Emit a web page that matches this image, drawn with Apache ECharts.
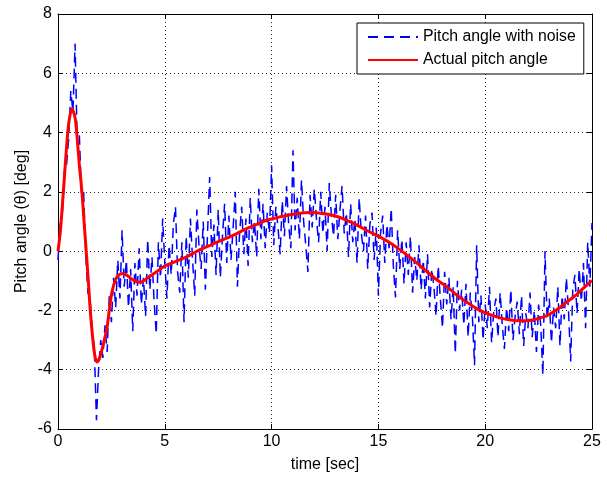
<!DOCTYPE html>
<html>
<head>
<meta charset="utf-8">
<script src="https://cdn.jsdelivr.net/npm/echarts@6/dist/echarts.min.js"></script>
<style>html,body{margin:0;padding:0;background:#fff;}#c{width:607px;height:478px;}</style>
</head>
<body>
<div id="c"></div>
<script>
// Noisy measurement, sampled every 0.1 s from t = 0 to 25
const noiseStep = 0.1;
const noiseValues = [
 -0.3, 0.9, 1.2, 2.7, 2.9, 3.8, 5.4, 4.7, 7.0, 3.6,
  3.9, 1.9, 2.0, -0.1, -1.4, -1.6, -2.6, -3.3, -5.7, -4.0,
 -3.0, -3.6, -2.5, -3.4, -1.5, -2.4, -0.9, -1.9, -0.3, -1.6,
  0.7, -1.2, -0.3, -1.9, -0.6, -2.7, -0.4, -1.5, 0.1, -1.8,
 -0.9, -2.2, 0.4, -1.3, -0.2, -1.7, -2.8, 0.3, -0.9, 1.1,
 -0.4, -1.6, 0.2, -0.8, 0.9, 1.5, -0.7, -1.4, 0.3, -2.4,
  0.5, -0.9, 1.1, -0.3, -1.5, 1.4, 0.2, -0.6, 1.0, -1.3,
  0.6, 2.5, -0.2, 0.9, -0.8, 1.4, -0.9, 0.5, 1.6, -0.4,
  1.2, -0.3, 0.8, 2.0, -1.2, 0.6, 1.5, -0.1, 1.1, -0.5,
  1.8, 0.3, 1.0, -0.2, 2.1, 0.4, 1.6, 0.1, 1.3, 0.6,
  2.9, 0.2, 1.5, 0.8, -0.1, 1.7, 0.5, 2.2, 0.9, 0.1,
  3.4, 0.7, 1.8, 0.4, 2.4, 1.0, 0.2, -0.7, 1.9, 0.8,
  2.1, 1.1, 0.3, 2.0, 0.6, 1.5, 0.0, 2.3, 1.2, 0.5,
  1.9, 0.4, 1.4, 2.2, 0.6, 1.3, -0.2, 1.6, 0.3, 1.1,
 -0.4, 1.8, 0.6, 0.0, 1.2, -0.6, 0.9, 1.3, -0.3, 0.8,
 -1.5, 0.6, 1.2, -0.4, 0.9, 0.1, 1.45, -0.5, -1.56, 0.7,
 -0.6, 0.4, -1.1, 0.3, -0.8, 0.5, -1.4, -0.2, -1.0, 0.2,
 -1.3, -0.3, -1.6, -0.1, -1.9, -0.6, -1.2, -2.2, -0.5, -1.6,
 -2.6, -0.7, -1.8, -0.9, -2.3, -1.2, -3.46, -1.0, -2.0, -1.3,
 -2.5, -1.1, -2.9, -1.4, -2.2, -3.85, 0.2, -2.4, -1.5, -3.0,
 -1.8, -2.6, -1.2, -3.1, -2.0, -1.6, -2.9, -1.4, -2.5, -3.3,
 -1.9, -2.7, -1.3, -3.0, -2.2, -1.7, -2.8, -1.5, -3.2, -2.1,
 -2.6, -1.4, -2.9, -2.0, -3.4, -1.8, -2.5, -4.19, 0.0, -2.3,
 -1.6, -3.1, -1.9, -2.6, -1.2, -3.2, -1.5, -2.3, -0.9, -2.0,
 -3.72, -1.3, -0.8, -2.1, -0.6, -1.7, -0.4, -2.6, 0.3, -1.2,
  0.95
];

// Actual pitch angle
const actualTime = [0, 0.1, 0.2, 0.3, 0.4, 0.5, 0.65, 0.8, 0.9, 1.0, 1.12, 1.2, 1.32, 1.42, 1.51, 1.62, 1.72, 1.82, 1.95, 2.1, 2.29, 2.4, 2.52, 2.7, 2.85, 3.0, 3.2, 3.5, 3.85, 4.2, 4.6, 5.0, 5.5, 6.0, 6.65, 7.2, 7.7, 8.2, 8.8, 9.3, 9.8, 10.3, 10.8, 11.3, 11.8, 12.3, 12.9, 13.5, 14.0, 14.5, 15.0, 15.5, 16.0, 16.6, 17.2, 17.7, 18.2, 18.7, 19.2, 19.7, 20.2, 20.7, 21.2, 21.7, 22.2, 22.8, 23.3, 23.8, 24.3, 24.9, 25.0];
const actualValues = [0, 0.6, 1.5, 2.5, 3.5, 4.3, 4.8, 4.5, 3.8, 2.9, 2.0, 1.2, 0, -1.0, -2.0, -2.9, -3.5, -3.74, -3.6, -3.2, -2.6, -2.0, -1.4, -0.95, -0.8, -0.75, -0.8, -0.97, -1.05, -0.9, -0.7, -0.5, -0.35, -0.2, 0.05, 0.22, 0.38, 0.53, 0.75, 0.9, 1.05, 1.14, 1.22, 1.28, 1.3, 1.28, 1.2, 1.05, 0.88, 0.68, 0.5, 0.3, 0.05, -0.28, -0.65, -0.95, -1.2, -1.5, -1.75, -1.98, -2.13, -2.25, -2.32, -2.35, -2.32, -2.2, -2.0, -1.73, -1.45, -1.05, -1.0];

const xTicks = [0, 5, 10, 15, 20, 25];
const yTicks = [-6, -4, -2, 0, 2, 4, 6, 8];
const seriesNames = ['Pitch angle with noise', 'Actual pitch angle'];

const noiseData = noiseValues.map((v, i) => [+(i * noiseStep).toFixed(1), v]);
const actualData = actualTime.map((t, i) => [t, actualValues[i]]);

const FONT = 'Liberation Sans';
const chart = echarts.init(document.getElementById('c'), null, {renderer: 'canvas'});

const baseX = {
  type: 'value', min: xTicks[0], max: xTicks[xTicks.length - 1], interval: 5
};
const baseY = {
  type: 'value', min: yTicks[0], max: yTicks[yTicks.length - 1], interval: 2
};
const boxLine = {show: true, onZero: false, lineStyle: {color: '#000', width: 1}};
const inTick = {show: true, inside: true, length: 5, lineStyle: {color: '#000'}};
const dotted = {show: true, lineStyle: {color: '#222', type: [1, 3], width: 1}};

chart.setOption({
  animation: false,
  backgroundColor: '#fff',
  textStyle: {fontFamily: FONT},
  grid: {left: 58, right: 15, top: 14, bottom: 46, containLabel: false},
  legend: {
    data: seriesNames,
    orient: 'vertical',
    left: 357, top: 23,
    padding: [5, 8, 5, 10],
    itemWidth: 50, itemHeight: 12, itemGap: 5,
    itemStyle: {opacity: 0},
    backgroundColor: '#fff', borderColor: '#000', borderWidth: 1, borderRadius: 0,
    textStyle: {fontFamily: FONT, fontSize: 15.8, color: '#000', lineHeight: 18}
  },
  xAxis: [
    Object.assign({}, baseX, {
      position: 'bottom',
      name: 'time [sec]', nameLocation: 'middle', nameGap: 28,
      nameTextStyle: {fontFamily: FONT, fontSize: 16, color: '#000'},
      axisLine: boxLine, axisTick: inTick,
      axisLabel: {fontFamily: FONT, fontSize: 16, color: '#000', margin: 5},
      splitLine: dotted
    }),
    Object.assign({}, baseX, {
      position: 'top',
      axisLine: boxLine, axisTick: inTick,
      axisLabel: {show: false},
      splitLine: {show: false}
    })
  ],
  yAxis: [
    Object.assign({}, baseY, {
      position: 'left',
      name: 'Pitch angle (θ) [deg]', nameLocation: 'middle', nameGap: 28, nameRotate: 90,
      nameMoveOverlap: false,
      nameTextStyle: {fontFamily: FONT, fontSize: 16, color: '#000'},
      axisLine: boxLine, axisTick: inTick,
      axisLabel: {fontFamily: FONT, fontSize: 16, color: '#000', margin: 6},
      splitLine: dotted
    }),
    Object.assign({}, baseY, {
      position: 'right',
      axisLine: boxLine, axisTick: inTick,
      axisLabel: {show: false},
      splitLine: {show: false}
    })
  ],
  series: [
    {
      name: seriesNames[0], type: 'line', data: noiseData,
      xAxisIndex: 0, yAxisIndex: 0,
      symbol: 'none', showSymbol: false,
      lineStyle: {color: '#0000ff', width: 1.5, type: [10, 6]},
      itemStyle: {color: '#0000ff'},
      z: 3
    },
    {
      name: seriesNames[1], type: 'line', data: actualData,
      xAxisIndex: 0, yAxisIndex: 0,
      symbol: 'none', showSymbol: false, smooth: 0.3,
      lineStyle: {color: '#ff0000', width: 3},
      itemStyle: {color: '#ff0000'},
      z: 4
    }
  ]
});
</script>
</body>
</html>
